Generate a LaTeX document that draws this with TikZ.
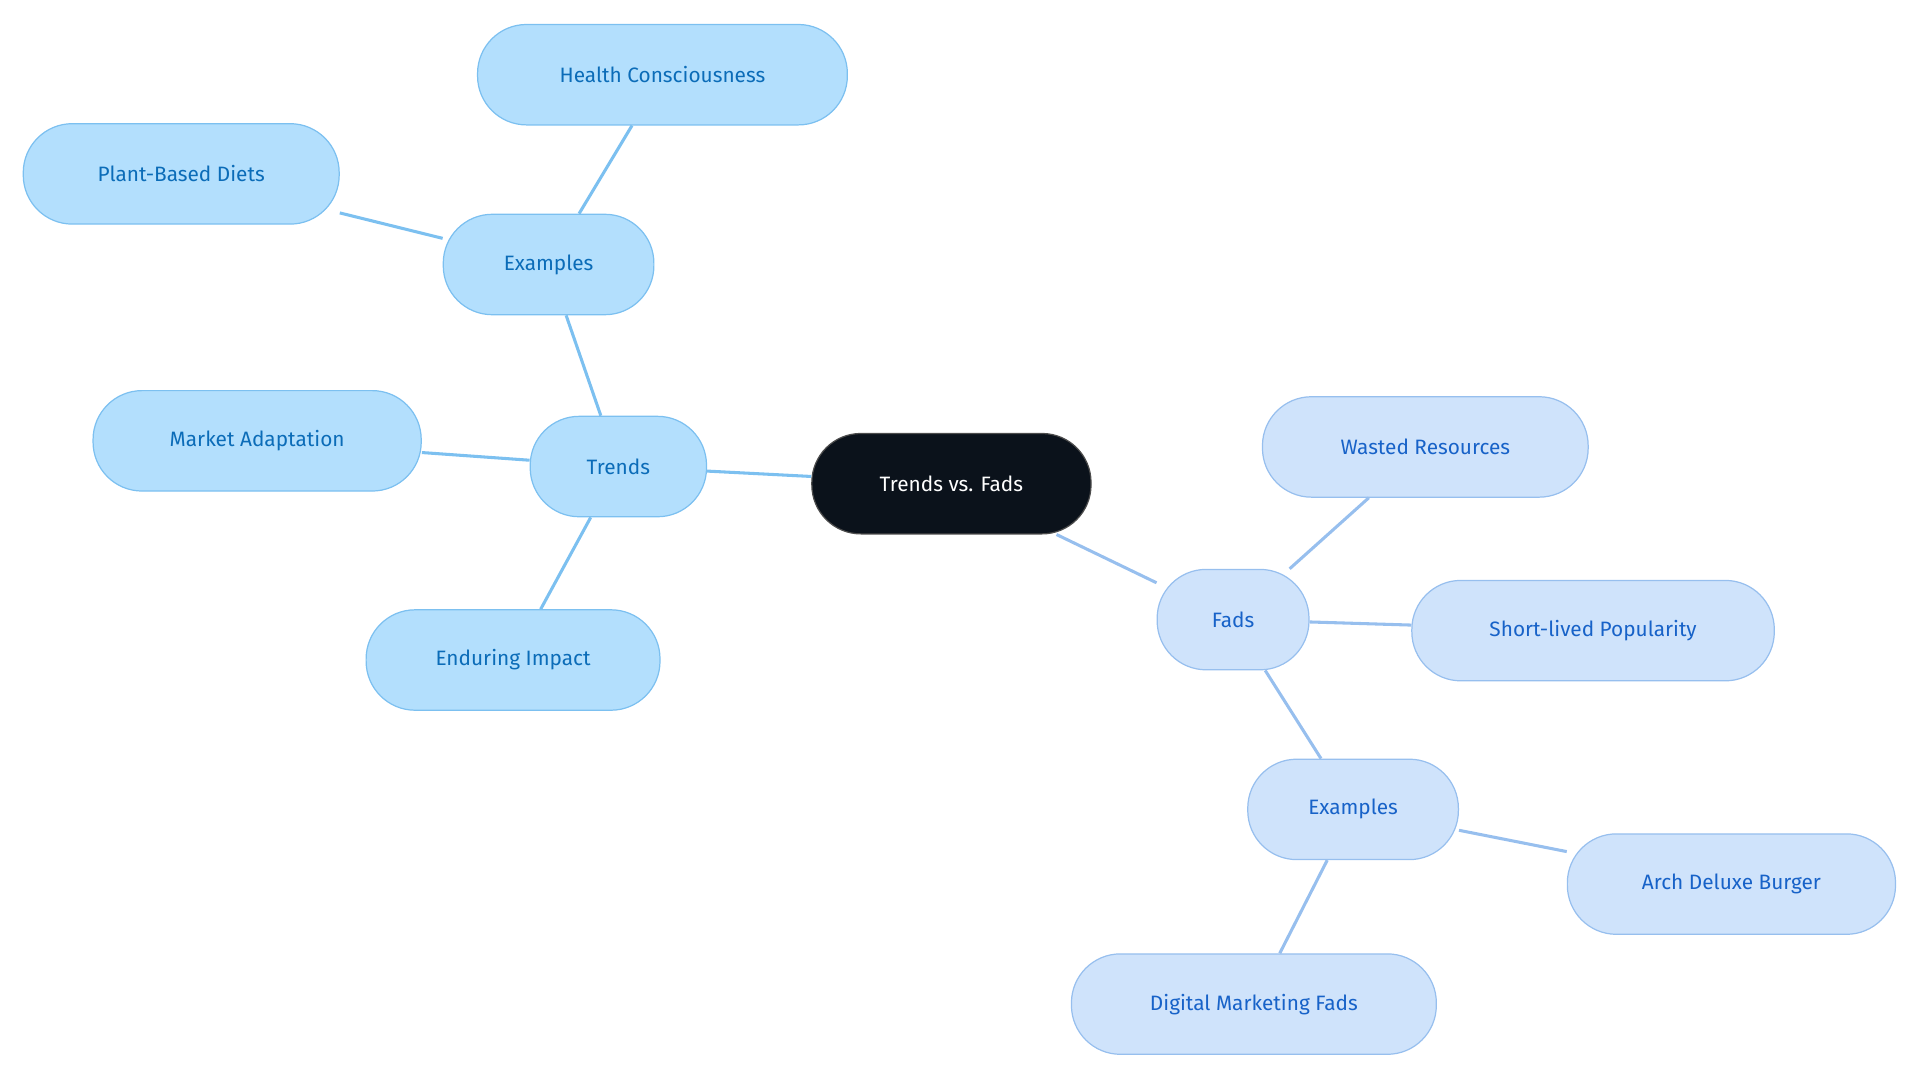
\documentclass[tikz,border=0pt]{standalone}
\usepackage{fontspec}
\setmainfont{Fira Sans}
\begin{document}
\begin{tikzpicture}[x=1pt,y=-1pt,
 base/.style={rounded corners=40pt,minimum height=82pt,line width=1pt,font=\fontsize{17}{20}\selectfont,inner sep=0pt},
 tr/.style={base,fill=tfill,draw=tline,text=ttext},
 fd/.style={base,fill=ffill,draw=fline,text=ftext},
 te/.style={draw=tline,line width=2.5pt},
 fe/.style={draw=fline,line width=2.5pt}]
\definecolor{tfill}{HTML}{B3DFFD}\definecolor{tline}{HTML}{7CC0F0}\definecolor{ttext}{HTML}{0B6CB8}
\definecolor{ffill}{HTML}{CFE3FB}\definecolor{fline}{HTML}{97BFEE}\definecolor{ftext}{HTML}{1762C8}
\useasboundingbox (0,0) rectangle (1568,884);
\node[base,fill={rgb,255:red,11;green,18;blue,27},draw=gray!60!black,text=white,minimum width=228pt] (c) at (777,395) {Trends vs. Fads};
\node[tr,minimum width=144pt] (t) at (505,381) {Trends};
\node[tr,minimum width=172pt] (te1) at (448,216) {Examples};
\node[tr,minimum width=302pt] (hc) at (541,61) {Health Consciousness};
\node[tr,minimum width=258pt] (pb) at (148,142) {Plant-Based Diets};
\node[tr,minimum width=268pt] (ma) at (210,360) {Market Adaptation};
\node[tr,minimum width=240pt] (ei) at (419,539) {Enduring Impact};
\node[fd,minimum width=124pt] (f) at (1007,506) {Fads};
\node[fd,minimum width=266pt] (wr) at (1164,365) {Wasted Resources};
\node[fd,minimum width=296pt] (sl) at (1301,515) {Short-lived Popularity};
\node[fd,minimum width=172pt] (fe1) at (1105,661) {Examples};
\node[fd,minimum width=268pt] (ad) at (1414,722) {Arch Deluxe Burger};
\node[fd,minimum width=298pt] (dm) at (1024,820) {Digital Marketing Fads};
\begin{scope}[on background layer/.style={}]
\end{scope}
\path[te] (c) -- (t); \path[te] (t) -- (te1); \path[te] (te1) -- (hc); \path[te] (te1) -- (pb);
\path[te] (t) -- (ma); \path[te] (t) -- (ei);
\path[fe] (c) -- (f); \path[fe] (f) -- (wr); \path[fe] (f) -- (sl); \path[fe] (f) -- (fe1);
\path[fe] (fe1) -- (ad); \path[fe] (fe1) -- (dm);
\end{tikzpicture}
\end{document}
